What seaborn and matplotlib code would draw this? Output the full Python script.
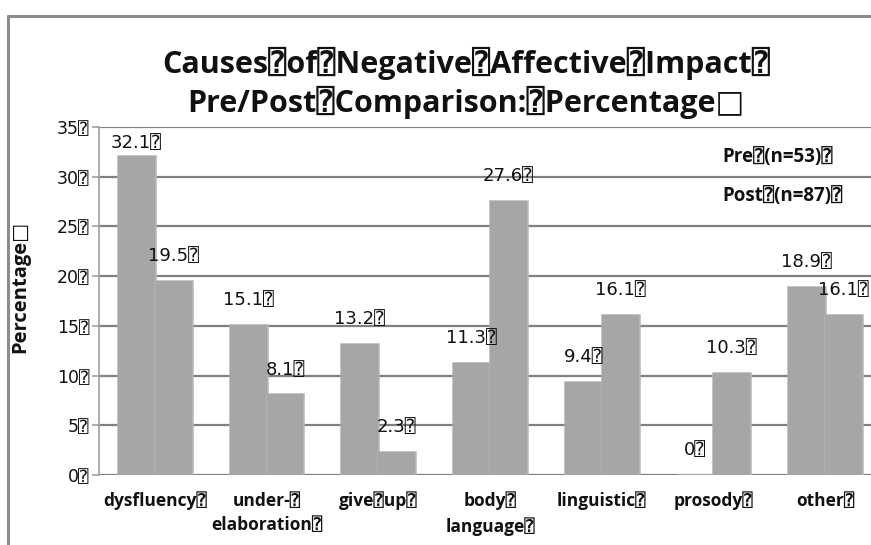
import matplotlib
matplotlib.use("Agg")
import matplotlib.pyplot as plt
import matplotlib.patheffects as pe
from matplotlib.lines import Line2D
import seaborn as sns
import pandas as pd

# data
categories = ["dysfluency⍰", "under-⍰\nelaboration⍰", "give⍰up⍰", "body⍰\nlanguage⍰",
              "linguistic⍰", "prosody⍰", "other⍰"]
pre_values = [32.1, 15.1, 13.2, 11.3, 9.4, 0, 18.9]
post_values = [19.5, 8.1, 2.3, 27.6, 16.1, 10.3, 16.1]
series_names = ["Pre⍰(n=53)⍰", "Post⍰(n=87)⍰"]
y_ticks = [0, 5, 10, 15, 20, 25, 30, 35]

df = pd.DataFrame({
    "category": categories * 2,
    "value": pre_values + post_values,
    "period": [series_names[0]] * len(categories) + [series_names[1]] * len(categories),
})

sns.set_theme(style="white")
fonts = ["Open Sans", "DejaVu Sans", "DejaVu Sans Mono"]
num_fonts = ["DejaVu Sans", "DejaVu Sans Mono"]
plt.rcParams["font.family"] = fonts

fig = plt.figure(figsize=(8.71, 5.45), dpi=100)
ax = fig.add_axes([99 / 871, 1 - 475 / 545, 782 / 871, 348 / 545])

bar_gray = "#a6a6a6"
sns.barplot(data=df, x="category", y="value", hue="period", order=categories,
            hue_order=series_names, palette=[bar_gray, bar_gray], width=0.66,
            ax=ax, legend=False, saturation=1, linewidth=0)

# soft edges like the blurred bars in the original
for patch in ax.patches:
    patch.set_path_effects([pe.withStroke(linewidth=1.8, foreground="#b4b4b4"), pe.Normal()])

# value labels above the bars
for container, vals in zip(ax.containers, [pre_values, post_values]):
    for bar, v in zip(container, vals):
        cx = bar.get_x() + bar.get_width() / 2
        ylab = min(v + 2.5, 33.4)
        ax.text(cx, ylab, f"{v:g}⍰", ha="center", va="center", fontsize=13,
                color="#111111", family=num_fonts)

ax.set_xlim(-0.5, 6.5)
ax.set_ylim(0, 35)
ax.set_yticks(y_ticks)
ax.set_yticklabels([f"{t}⍰" for t in y_ticks], fontsize=12.5, color="#111111",
                   family=num_fonts)
ax.yaxis.grid(True, color="#808080", linewidth=1.6)
ax.set_axisbelow(True)
ax.tick_params(axis="y", length=5, width=1.2, color="#a0a0a0", pad=2, left=True)
ax.tick_params(axis="x", length=0, pad=12)
for lab in ax.get_xticklabels():
    lab.set_fontweight("bold")
    lab.set_fontsize(12.5)
    lab.set_linespacing(1.45)
    lab.set_color("#111111")

for s in ["top", "right", "bottom"]:
    ax.spines[s].set_visible(False)
ax.spines["left"].set_color("#a0a0a0")
ax.spines["left"].set_linewidth(1.2)

ax.set_xlabel("")
ax.set_ylabel("Percentage□", fontsize=14.5, fontweight="bold", color="#111111")
ax.yaxis.set_label_coords(-0.088, 0.54)

# legend entries are plain text in the original
fig.text(722 / 871, 1 - 157 / 545, series_names[0], fontsize=13.5, fontweight="bold",
         ha="left", va="center", color="#111111")
fig.text(722 / 871, 1 - 196 / 545, series_names[1], fontsize=13.5, fontweight="bold",
         ha="left", va="center", color="#111111")

fig.text(466 / 871, 1 - 83 / 545,
         "Causes⍰of⍰Negative⍰Affective⍰Impact⍰\nPre/Post⍰Comparison:⍰Percentage□",
         ha="center", va="center", fontsize=22, fontweight="bold", linespacing=1.25,
         color="#111111")

# outer chart frame (cropped)
fig.add_artist(Line2D([8 / 871, 1], [1 - 16 / 545, 1 - 16 / 545], color="#8c8c8c",
                      linewidth=2.2, transform=fig.transFigure))
fig.add_artist(Line2D([8 / 871, 8 / 871], [0, 1 - 16 / 545], color="#8c8c8c",
                      linewidth=2.2, transform=fig.transFigure))

fig.savefig("out.png", dpi=100)
